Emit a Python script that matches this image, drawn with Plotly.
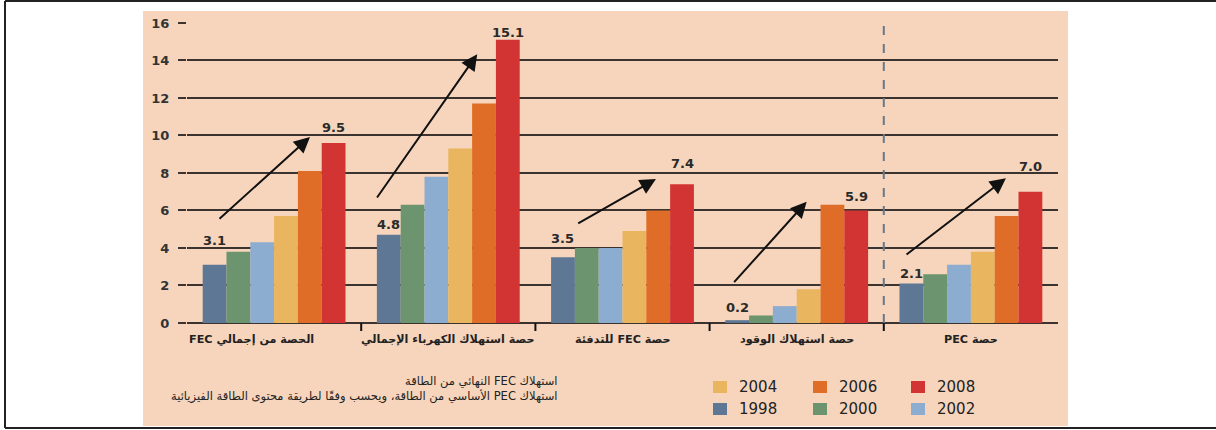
import plotly.graph_objects as go

# ---------------- data ----------------
categories = [
    "الحصة من إجمالي FEC",
    "حصة استهلاك الكهرباء الإجمالي",
    "حصة FEC للتدفئة",
    "حصة استهلاك الوقود",
    "حصة PEC",
]
years = ["1998", "2000", "2002", "2004", "2006", "2008"]
v1998 = [3.1, 4.7, 3.5, 0.15, 2.1]
v2000 = [3.8, 6.3, 4.0, 0.4, 2.6]
v2002 = [4.3, 7.8, 4.0, 0.9, 3.1]
v2004 = [5.7, 9.3, 4.9, 1.8, 3.8]
v2006 = [8.1, 11.7, 6.0, 6.3, 5.7]
v2008 = [9.6, 15.1, 7.4, 6.0, 7.0]
first_labels = ["3.1", "4.8", "3.5", "0.2", "2.1"]
last_labels = ["9.5", "15.1", "7.4", "5.9", "7.0"]
y_ticks = [0, 2, 4, 6, 8, 10, 12, 14, 16]
notes = [
    "استهلاك FEC النهائي من الطاقة",
    "استهلاك PEC الأساسي من الطاقة، ويحسب وفقًا لطريقة محتوى الطاقة الفيزيائية",
]

# ---------------- styles / positions ----------------
colors = ["#5E7795", "#6B946F", "#8CACD0", "#E9B55E", "#DF6D27", "#D23434"]
series = [v1998, v2000, v2002, v2004, v2006, v2008]
GRID = "#3b3330"
PEACH = "#F6D5BC"
BARGAP = 0.18
W, H = 1216, 430
ML, MR, MT, MB = 187, 158, 22, 99
PW, PH = W - ML - MR, H - MT - MB
Y0, Y1 = -0.427, 16.05

def px_x(px):
    return (px - ML) / PW

def px_y(py):
    return (H - MB - py) / PH

def RTL(s):
    return "\u202B" + s + "\u202C"

first_label_y = [4.39, 5.23, 4.53, 0.84, 2.65]
last_label_y = [10.4, 15.47, 8.52, 6.77, 8.37]
# arrows: (tail_x, tail_y, head_x, head_y) in axis units
arrows = [
    (-0.322, 5.49, 0.206, 9.92),
    (0.585, 6.61, 1.166, 14.33),
    (1.737, 5.26, 2.192, 7.68),
    (2.633, 2.10, 3.057, 6.47),
    (3.622, 3.59, 4.201, 7.72),
]
cat_label_x = [-0.13, 1.0, 2.0, 3.0, 4.0]

fig = go.Figure()
for name, vals, c in zip(years, series, colors):
    fig.add_trace(go.Bar(x=categories, y=vals, name=name, marker_color=c,
                         marker_line_width=0, showlegend=False))

def bar_offset(k):
    w = 1 - BARGAP
    return -w / 2 + (k + 0.5) * w / 6

ann = []
lab_font = dict(family="DejaVu Sans", size=13, color="#2a2a2a", weight="bold")
for i in range(len(categories)):
    ann.append(dict(x=i + bar_offset(0), y=first_label_y[i], xref="x", yref="y",
                    text=first_labels[i], showarrow=False, font=lab_font))
    ann.append(dict(x=i + bar_offset(5), y=last_label_y[i], xref="x", yref="y",
                    text=last_labels[i], showarrow=False, font=lab_font))
for tx, ty, hx, hy in arrows:
    ann.append(dict(x=hx, y=hy, ax=tx, ay=ty, xref="x", yref="y", axref="x", ayref="y",
                    text="", showarrow=True, arrowhead=2, arrowsize=1.6, arrowwidth=2,
                    arrowcolor="#111111", standoff=0, startstandoff=0))
for i, cat in enumerate(categories):
    ann.append(dict(x=cat_label_x[i], y=px_y(339), xref="x", yref="paper",
                    text=RTL(cat), showarrow=False, yanchor="middle",
                    font=dict(family="DejaVu Sans", size=11.2, color="#222", weight="bold")))
ann.append(dict(x=px_x(560), y=px_y(389), xref="paper", yref="paper",
                text="<br>".join(RTL(n) for n in notes), showarrow=False,
                xanchor="right", yanchor="middle", align="right",
                font=dict(family="DejaVu Sans", size=11.5, color="#222")))

shapes = []
# page border and peach panel
shapes.append(dict(type="rect", xref="paper", yref="paper", layer="below",
                   x0=px_x(143), x1=px_x(1068), y0=px_y(426), y1=px_y(11),
                   fillcolor=PEACH, line_width=0))
shapes.append(dict(type="line", xref="paper", yref="paper", x0=px_x(5), x1=px_x(5),
                   y0=px_y(428), y1=px_y(1), line=dict(color="#222", width=2)))
shapes.append(dict(type="line", xref="paper", yref="paper", x0=px_x(5), x1=px_x(1216),
                   y0=px_y(1), y1=px_y(1), line=dict(color="#222", width=2)))
shapes.append(dict(type="line", xref="paper", yref="paper", x0=px_x(5), x1=px_x(1216),
                   y0=px_y(428), y1=px_y(428), line=dict(color="#222", width=2)))
# group separator ticks
for b in [0.5, 1.5, 2.5, 3.5]:
    shapes.append(dict(type="line", xref="x", yref="y", x0=b, x1=b, y0=0, y1=Y0,
                       line=dict(color="#111", width=2)))
# dashed separator
shapes.append(dict(type="line", xref="x", yref="y", x0=3.5, x1=3.5, y0=0, y1=16,
                   line=dict(color="#6a7888", width=2, dash="dash"), layer="above"))

# legend (manual, 2 rows x 3 columns)
legend_order = [3, 4, 5, 0, 1, 2]
col_x = [713, 813, 911]
row_y = [387, 409]
for pos, k in enumerate(legend_order):
    cx = col_x[pos % 3]
    cy = row_y[pos // 3]
    shapes.append(dict(type="rect", xref="paper", yref="paper",
                       x0=px_x(cx), x1=px_x(cx + 14), y0=px_y(cy + 6), y1=px_y(cy - 6),
                       fillcolor=colors[k], line_width=0))
    ann.append(dict(x=px_x(cx + 24), y=px_y(cy), xref="paper", yref="paper",
                    text=years[k], showarrow=False, xanchor="left", yanchor="middle",
                    font=dict(family="DejaVu Sans", size=15, color="#222")))

fig.update_layout(
    width=W, height=H,
    margin=dict(l=ML, r=MR, t=MT, b=MB, autoexpand=False),
    paper_bgcolor="white", plot_bgcolor="rgba(0,0,0,0)",
    barmode="group", bargap=BARGAP, bargroupgap=0,
    showlegend=False,
    annotations=ann, shapes=shapes,
    xaxis=dict(type="category", range=[-0.5, 4.5], showticklabels=False,
               showgrid=False, zeroline=False, showline=False, ticks=""),
    yaxis=dict(range=[Y0, Y1], tickvals=y_ticks, showgrid=True, gridcolor=GRID,
               gridwidth=1.5, zeroline=True, zerolinecolor=GRID, zerolinewidth=2,
               ticks="outside", ticklen=8, tickwidth=2, tickcolor=GRID,
               ticklabelstandoff=6,
               tickfont=dict(family="DejaVu Sans", size=13, color="#333", weight="bold"),
               showline=False),
)

fig.write_html("out.html", config={"displayModeBar": False},
               post_script="document.body.style.margin='0';document.body.style.overflow='hidden';")
